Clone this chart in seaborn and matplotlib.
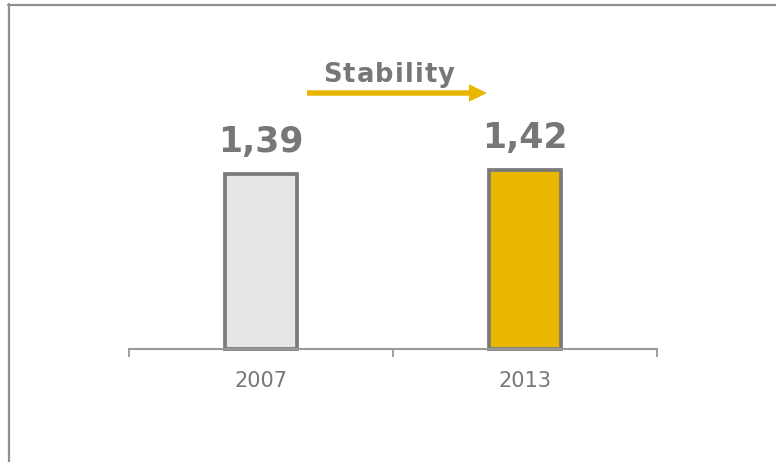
import matplotlib
matplotlib.use("Agg")
import matplotlib.pyplot as plt
from matplotlib.lines import Line2D
from matplotlib.patches import FancyArrow
import pandas as pd
import seaborn as sns

# Data
years = ["2007", "2013"]
values = [1.39, 1.42]
bar_colors = ["#E6E6E6", "#EAB700"]
trend_label = "Stability"

GREY = "#777777"
EDGE = "#7A7A7A"
AXIS = "#999999"
YELLOW = "#EAB700"

sns.set_theme(style="white")
plt.rcParams["font.family"] = ["DejaVu Sans"]

W, H, DPI = 776, 462, 100
fig = plt.figure(figsize=(W / DPI, H / DPI), dpi=DPI)
fig.patch.set_facecolor("white")

# Axes placed in pixel terms: baseline at y=349 px, categories spanning 129..657 px
ymax = 1.8
px_per_unit = 126
ax_h = ymax * px_per_unit
ax = fig.add_axes([129 / W, (H - 349) / H, 528 / W, ax_h / H])

df = pd.DataFrame({"year": years, "value": values})
sns.barplot(
    data=df, x="year", y="value", hue="year", palette=bar_colors,
    legend=False, width=0.275, edgecolor=EDGE, linewidth=2.7, ax=ax,
    saturation=1,
)
for p in ax.patches:
    p.set_clip_on(False)
    p.set_joinstyle("miter")

ax.set_xlim(-0.5, 1.5)
ax.set_ylim(0, ymax)
ax.set_xlabel("")
ax.set_ylabel("")
ax.set_yticks([])

for side in ("left", "right", "top"):
    ax.spines[side].set_visible(False)
ax.spines["bottom"].set_color(AXIS)
ax.spines["bottom"].set_linewidth(1.5)

# Category separators as minor ticks; labels on major ticks without tick marks
ax.set_xticks([-0.5, 0.5, 1.5], minor=True)
ax.tick_params(axis="x", which="minor", length=5.8, width=1.3, color=AXIS,
               direction="out", bottom=True)
ax.tick_params(axis="x", which="major", length=0, pad=15.5, colors=GREY,
               labelsize=15)

# Value labels above bars
for i, v in enumerate(values):
    ax.annotate(f"{v:.2f}".replace(".", ","), (i, v), xytext=(0, 16),
                textcoords="offset points", ha="center", va="baseline",
                fontsize=25, fontweight="bold", color=GREY,
                annotation_clip=False)

# Trend arrow
fig.add_artist(FancyArrow(
    3.07, (H - 93) / DPI, 1.80, 0, width=0.055, head_width=0.175,
    head_length=0.18, length_includes_head=True, color=YELLOW, lw=0,
    transform=fig.dpi_scale_trans,
))

# Letter-spaced trend caption
renderer = fig.canvas.get_renderer()
spacing = 1.2
chars = []
widths = []
for ch in trend_label:
    t = fig.text(0, 0, ch, fontsize=18.5, fontweight="bold", color=GREY,
                 ha="left", va="baseline", transform=None)
    chars.append(t)
    widths.append(t.get_window_extent(renderer).width)
total = sum(widths) + spacing * (len(chars) - 1)
x = 389 - total / 2
for t, w in zip(chars, widths):
    t.set_position((x, H - 82))
    x += w + spacing

# Outer frame
fig.add_artist(Line2D([8.5 / W, 8.5 / W], [0, (H - 4) / H], color="#909090",
                      lw=1.6, transform=fig.transFigure))
fig.add_artist(Line2D([8 / W, 1], [(H - 4.5) / H, (H - 4.5) / H],
                      color="#909090", lw=1.6, transform=fig.transFigure))

fig.savefig("out.png", dpi=DPI)
